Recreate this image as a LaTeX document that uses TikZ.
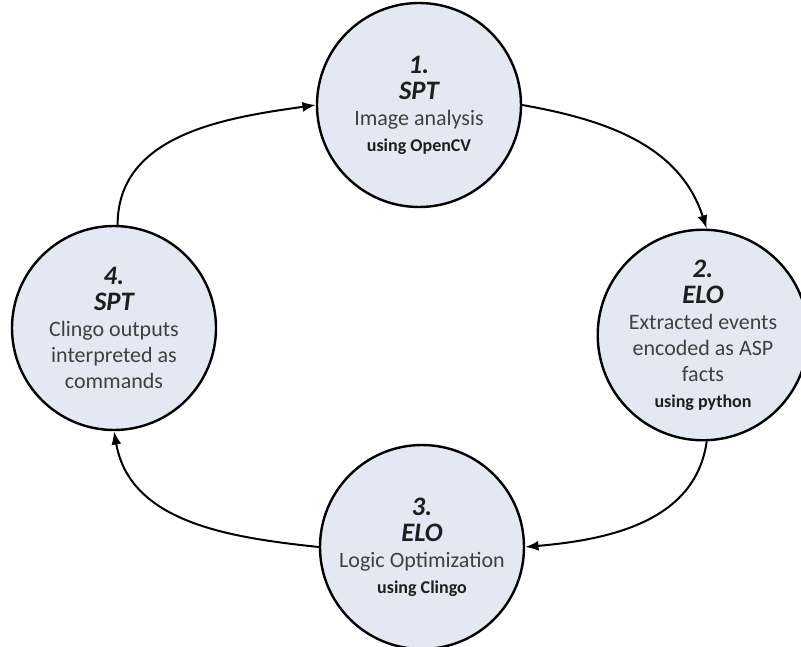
\documentclass[tikz,border=0pt]{standalone}
\usepackage{fontspec}
\setmainfont{Carlito}
\usetikzlibrary{arrows.meta}
\definecolor{stagefill}{HTML}{E3E8F3}
\definecolor{desctext}{HTML}{404040}
\definecolor{headtext}{HTML}{1E1E1E}
\newcommand{\stagehead}[1]{{\fontsize{20}{19.5}\selectfont\bfseries\itshape\color{headtext}#1}}
\newcommand{\stageuse}[1]{{\fontsize{13.5}{19.5}\selectfont\bfseries\color{headtext}#1}}
\begin{document}
\begin{tikzpicture}[x=0.75pt,y=-0.75pt,
  stage/.style={circle, draw=black, line width=1.8pt, fill=stagefill,
    minimum size=153pt, inner sep=0pt, align=center, text=desctext,
    font=\fontsize{16.5}{19.5}\selectfont},
  flow/.style={line width=1.5pt, -{Latex[length=10pt,width=7.5pt]}}]
\useasboundingbox (0,0) rectangle (801,647);

% the four stages of the loop
\node[stage] (s1) at (419,105) {\stagehead{1.}\\ \stagehead{SPT}\\ Image analysis\\ \stageuse{using OpenCV}};
\node[stage] (s2) at (703,335) {\stagehead{2.}\\ \stagehead{ELO}\\ Extracted events\\ encoded as ASP\\ facts\\ \stageuse{using python}};
\node[stage] (s3) at (422,547) {\stagehead{3.}\\ \stagehead{ELO}\\ Logic Optimization\\ \stageuse{using Clingo}};
\node[stage] (s4) at (114,328) {\stagehead{4.}\\ \stagehead{SPT}\\ Clingo outputs\\ interpreted as\\ commands};

% clockwise transitions
\draw[flow] (s4.88) to[out=90,in=188] (s1.180);
\draw[flow] (s1.0) to[out=-10,in=108] (s2.88);
\draw[flow] (s2.-88) to[out=-98,in=5] (s3.0);
\draw[flow] (s3.180) to[out=174,in=-80] (s4.-90);
\end{tikzpicture}
\end{document}
